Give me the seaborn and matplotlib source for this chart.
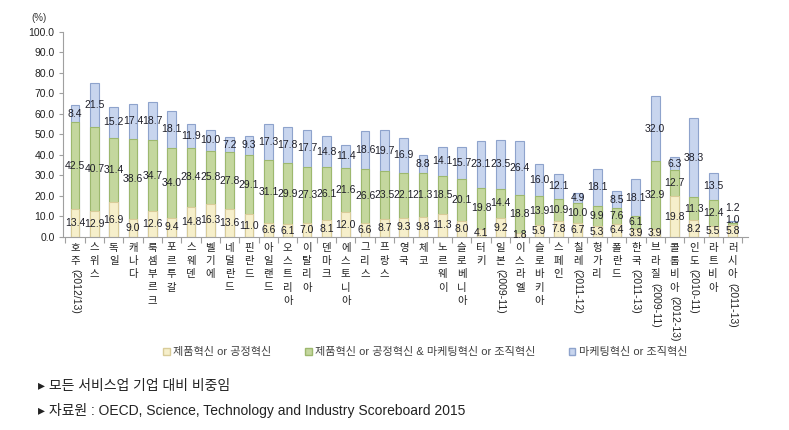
import matplotlib
matplotlib.use("Agg")
import matplotlib.pyplot as plt
from matplotlib.patches import Patch
import seaborn as sns

countries = ["호주(2012/13)", "스위스", "독일", "캐나다", "룩셈부르크", "포르투갈", "스웨덴",
             "벨기에", "네덜란드", "핀란드", "아일랜드", "오스트리아", "이탈리아", "덴마크",
             "에스토니아", "그리스", "프랑스", "영국", "체코", "노르웨이", "슬로베니아", "터키",
             "일본(2009-11)", "이스라엘", "슬로바키아", "스페인", "칠레(2011-12)", "헝가리",
             "폴란드", "한국(2011-13)", "브라질(2009-11)", "콜롬비아(2012-13)", "인도(2010-11)",
             "라트비아", "러시아(2011-13)"]
prod_only = [13.4, 12.9, 16.9, 9.0, 12.6, 9.4, 14.8, 16.3, 13.6, 11.0, 6.6, 6.1, 7.0, 8.1,
             12.0, 6.6, 8.7, 9.3, 9.8, 11.3, 8.0, 4.1, 9.2, 1.8, 5.9, 7.8, 6.7, 5.3, 6.4,
             3.9, 3.9, 19.8, 8.2, 5.5, 5.8]
both = [42.5, 40.7, 31.4, 38.6, 34.7, 34.0, 28.4, 25.8, 27.8, 29.1, 31.1, 29.9, 27.3, 26.1,
        21.6, 26.6, 23.5, 22.1, 21.3, 18.5, 20.1, 19.8, 14.4, 18.8, 13.9, 10.9, 10.0, 9.9,
        7.6, 6.1, 32.9, 12.7, 11.3, 12.4, 1.0]
mkt_only = [8.4, 21.5, 15.2, 17.4, 18.7, 18.1, 11.9, 10.0, 7.2, 9.3, 17.3, 17.8, 17.7, 14.8,
            11.4, 18.6, 19.7, 16.9, 8.8, 14.1, 15.7, 23.1, 23.5, 26.4, 16.0, 12.1, 4.9, 18.1,
            8.5, 18.1, 32.0, 6.3, 38.3, 13.5, 1.2]
legend_labels = ["제품혁신 or 공정혁신",
                 "제품혁신 or 공정혁신 & 마케팅혁신 or 조직혁신",
                 "마케팅혁신 or 조직혁신"]

sns.set_theme(style="white")
FONT = ["Liberation Sans", "Noto Sans CJK KR", "DejaVu Sans"]
plt.rcParams["font.family"] = FONT

c_prod, e_prod = "#F6EFCB", "#D9CC99"
c_both, e_both = "#C4D79E", "#9DB86E"
c_mkt, e_mkt = "#C8D5EE", "#8EA3CC"

lvl1 = prod_only
lvl2 = [a + b for a, b in zip(prod_only, both)]
lvl3 = [a + b for a, b in zip(lvl2, mkt_only)]

fig = plt.figure(figsize=(7.89, 4.30), dpi=100)
ax = fig.add_axes([63 / 789, 1 - 237 / 430, (748 - 63) / 789, (237 - 31.7) / 430])

bw = 0.45
sns.barplot(x=countries, y=lvl3, order=countries, color=c_mkt, edgecolor=e_mkt,
            linewidth=0.8, width=bw, saturation=1, ax=ax)
sns.barplot(x=countries, y=lvl2, order=countries, color=c_both, edgecolor=e_both,
            linewidth=0.8, width=bw, saturation=1, ax=ax)
sns.barplot(x=countries, y=lvl1, order=countries, color=c_prod, edgecolor=e_prod,
            linewidth=0.8, width=bw, saturation=1, ax=ax)

# value labels, centred on each segment (nudged up when a segment is too thin)
for i in range(len(countries)):
    last = None
    for bottom, val in ((0, prod_only[i]), (lvl1[i], both[i]), (lvl2[i], mkt_only[i])):
        y = bottom + val / 2
        if last is not None and y < last + 5:
            y = last + 5.5
        last = y
        ax.text(i, y, f"{val:.1f}", ha="center", va="center",
                fontsize=7.5, color="#1E1E28")

ax.set_ylim(0, 100)
ax.set_xlim(-0.62, len(countries) - 0.2)
ax.set_yticks(range(0, 101, 10))
ax.set_yticklabels([f"{v:.1f}" for v in range(0, 101, 10)], fontsize=7.5, color="#222222")
ax.set_xticks(range(len(countries)))
ax.set_xticklabels([])
ax.set_xticks([i + 0.5 for i in range(-1, len(countries))], minor=True)
ax.tick_params(axis="x", which="major", length=0)
ax.tick_params(axis="x", which="minor", length=4, color="#A0A0A0", width=0.8, bottom=True)
ax.tick_params(axis="y", length=3, color="#A0A0A0", width=0.8, left=True, pad=3)
ax.set_xlabel("")
ax.set_ylabel("")
for s in ("top", "right"):
    ax.spines[s].set_visible(False)
for s in ("left", "bottom"):
    ax.spines[s].set_color("#A0A0A0")
    ax.spines[s].set_linewidth(0.8)

ax.annotate("(%)", xy=(0, 1), xycoords="axes fraction", xytext=(-17, 10),
            textcoords="offset points", ha="center", va="center", fontsize=7,
            color="#333333", annotation_clip=False)

# category labels: Korean characters stacked, parenthesised years rotated
step = 9.6
for i, name in enumerate(countries):
    if "(" in name:
        kor, paren = name.split("(", 1)
        paren = "(" + paren
    else:
        kor, paren = name, ""
    for k, ch in enumerate(kor):
        ax.annotate(ch, xy=(i, 0), xycoords=("data", "axes fraction"),
                    xytext=(0, -4 - k * step), textcoords="offset points",
                    ha="center", va="top", fontsize=7.5, color="#222222",
                    annotation_clip=False)
    if paren:
        ax.annotate(paren, xy=(i, 0), xycoords=("data", "axes fraction"),
                    xytext=(0, -4 - len(kor) * step), textcoords="offset points",
                    ha="center", va="top", rotation=-90, fontsize=7.5, color="#222222",
                    annotation_clip=False)

handles = [Patch(facecolor=c_prod, edgecolor=e_prod),
           Patch(facecolor=c_both, edgecolor=e_both),
           Patch(facecolor=c_mkt, edgecolor=e_mkt)]
fig.legend(handles, legend_labels, loc="center", bbox_to_anchor=(0.539, 1 - 352 / 430),
           ncol=3, frameon=False, fontsize=8, handlelength=0.6, handleheight=0.6,
           handletextpad=0.3, columnspacing=3.0, labelcolor="#404040")

fig.text(38 / 789, 1 - 386 / 430, "▸ 모든 서비스업 기업 대비 비중임", fontsize=10,
         va="center", ha="left", color="#222222")
fig.text(38 / 789, 1 - 411 / 430,
         "▸ 자료원 : OECD, Science, Technology and Industry Scoreboard 2015",
         fontsize=10, va="center", ha="left", color="#222222")

fig.savefig("out.png", dpi=100)
